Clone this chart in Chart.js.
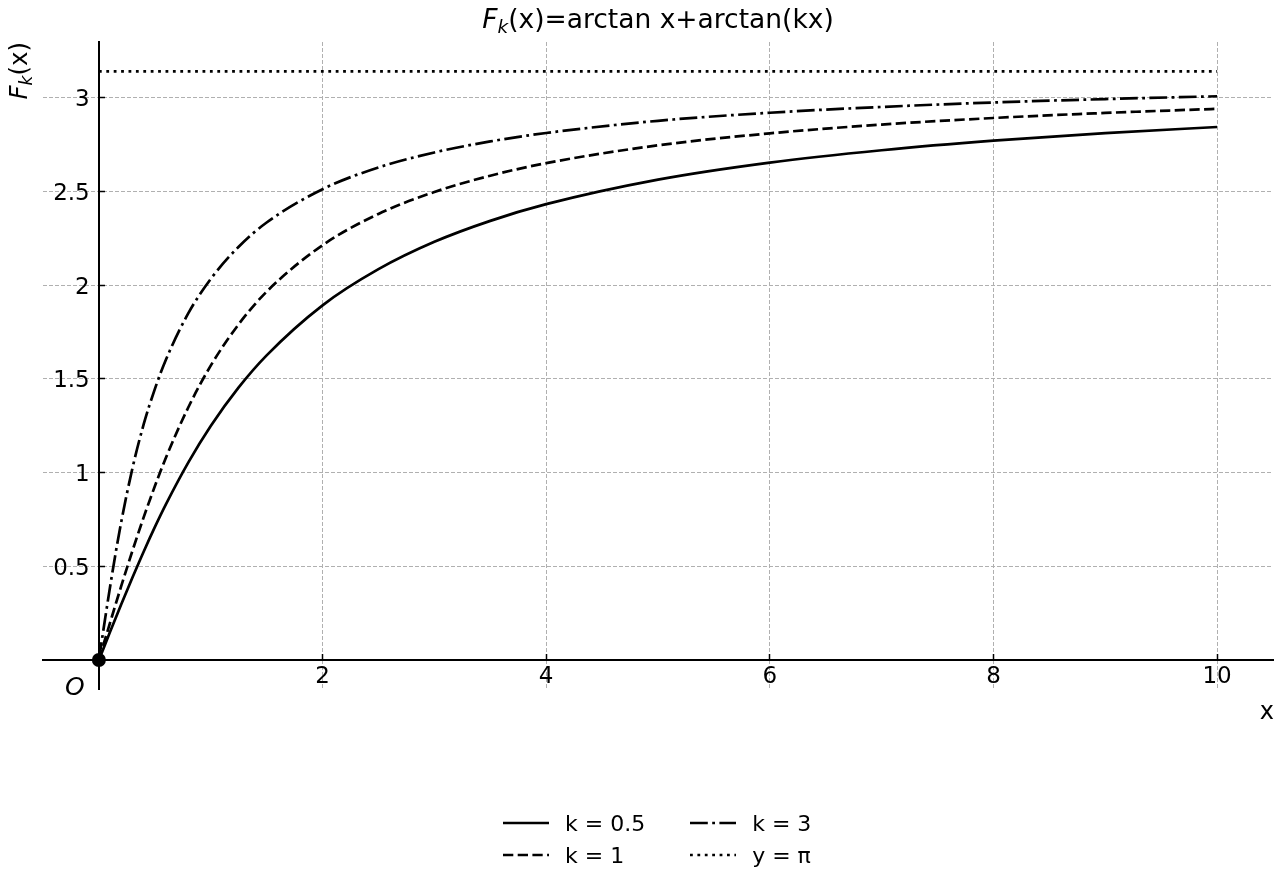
<!DOCTYPE html>
<html><head><meta charset="utf-8">
<script src="https://cdn.jsdelivr.net/npm/chart.js@4.4.1/dist/chart.umd.min.js"></script>
<style>
html,body{margin:0;padding:0;background:#fff;}
#wrap{position:relative;width:1280px;height:880px;overflow:hidden;}
#c{position:absolute;left:0;top:0;}
#legend{position:absolute;left:503px;top:807px;display:grid;grid-auto-flow:column;grid-template-rows:32px 32px;column-gap:45px;font-family:'DejaVu Sans';font-size:22px;color:#000;}
.item{display:flex;align-items:center;white-space:nowrap;}
.item svg{margin-right:16px;display:block;}
</style></head><body>
<div id="wrap"><canvas id="c" width="1280" height="880"></canvas><div id="legend"></div></div>
<script>
// ---- data ----
const xValues   = [0, 0.05, 0.1, 0.15, 0.2, 0.3, 0.4, 0.5, 0.6, 0.8, 1, 1.25, 1.5, 2, 2.5, 3, 3.5, 4, 5, 6, 7, 8, 9, 10];
const k05Values = [0, 0.075, 0.150, 0.224, 0.297, 0.440, 0.578, 0.709, 0.832, 1.055, 1.249, 1.455, 1.626, 1.893, 2.086, 2.232, 2.344, 2.433, 2.564, 2.655, 2.721, 2.772, 2.812, 2.845];
const k1Values  = [0, 0.100, 0.199, 0.298, 0.395, 0.583, 0.761, 0.927, 1.081, 1.349, 1.571, 1.792, 1.966, 2.214, 2.381, 2.498, 2.585, 2.652, 2.747, 2.811, 2.858, 2.893, 2.920, 2.942];
const k3Values  = [0, 0.199, 0.391, 0.572, 0.738, 1.024, 1.257, 1.446, 1.604, 1.851, 2.034, 2.206, 2.335, 2.513, 2.629, 2.709, 2.768, 2.813, 2.878, 2.921, 2.952, 2.976, 2.994, 3.009];
const piLineX   = [0, 10];
const piValue   = 3.14159;
const originPoint = [0, 0];
const seriesLabels = ['k = 0.5', 'k = 1', 'k = 3', 'y = π'];
const xTickValues = [0, 2, 4, 6, 8, 10];
const yTickValues = [0, 0.5, 1, 1.5, 2, 2.5, 3];
const titleF = 'F', titleSub = 'k', titleRest = '(x)=arctan x+arctan(kx)';
const yLabelRest = '(x)';
const xLabel = 'x';
const originLabel = 'O';

const FONT = '"DejaVu Sans"';
const toPts = (xs, ys) => xs.map((x, i) => ({x: x, y: ys[i]}));

const lineBase = {borderColor: '#000', backgroundColor: '#000', borderWidth: 2.7, pointRadius: 0, fill: false,
  cubicInterpolationMode: 'monotone', borderCapStyle: 'butt'};

const datasets = [
  Object.assign({}, lineBase, {label: seriesLabels[0], data: toPts(xValues, k05Values), borderDash: []}),
  Object.assign({}, lineBase, {label: seriesLabels[1], data: toPts(xValues, k1Values), borderDash: [10.3, 4.4]}),
  Object.assign({}, lineBase, {label: seriesLabels[2], data: toPts(xValues, k3Values), borderDash: [17.8, 4.4, 2.8, 4.4]}),
  Object.assign({}, lineBase, {label: seriesLabels[3], data: toPts(piLineX, piLineX.map(() => piValue)), borderDash: [2.8, 4.6], tension: 0}),
  {label: '', data: [{x: originPoint[0], y: originPoint[1]}], showLine: false, pointRadius: 7, pointHoverRadius: 7,
   backgroundColor: '#000', borderColor: '#000', borderWidth: 0, order: -1}
];

const textPlugin = {
  id: 'texts',
  afterDraw(chart) {
    const ctx = chart.ctx;
    const ca = chart.chartArea;
    ctx.save();
    ctx.fillStyle = '#000';
    ctx.textBaseline = 'alphabetic';
    // title
    const ts = 26.5;
    const parts = [
      {t: titleF, f: `italic ${ts}px ${FONT}`, dy: 0},
      {t: titleSub, f: `italic ${(ts * 0.7).toFixed(1)}px ${FONT}`, dy: 5},
      {t: titleRest, f: `${ts}px ${FONT}`, dy: 0}
    ];
    let total = 0;
    parts.forEach(p => { ctx.font = p.f; p.w = ctx.measureText(p.t).width; total += p.w; });
    let x = (ca.left + ca.right) / 2 - total / 2;
    const by = 28;
    ctx.textAlign = 'left';
    parts.forEach(p => { ctx.font = p.f; ctx.fillText(p.t, x, by + p.dy); x += p.w; });
    // y label (rotated, aligned to top of axes)
    const ls = 24.5;
    const yparts = [
      {t: titleF, f: `italic ${ls}px ${FONT}`, dy: 0},
      {t: titleSub, f: `italic ${(ls * 0.7).toFixed(1)}px ${FONT}`, dy: 4.5},
      {t: yLabelRest, f: `${ls}px ${FONT}`, dy: 0}
    ];
    let ytot = 0;
    yparts.forEach(p => { ctx.font = p.f; p.w = ctx.measureText(p.t).width; ytot += p.w; });
    ctx.save();
    ctx.translate(27, ca.top + ytot);
    ctx.rotate(-Math.PI / 2);
    let yx = 0;
    yparts.forEach(p => { ctx.font = p.f; ctx.fillText(p.t, yx, p.dy); yx += p.w; });
    ctx.restore();
    // x label
    ctx.font = `24px ${FONT}`;
    ctx.textAlign = 'right';
    ctx.fillText(xLabel, ca.right + 1, 719);
    // origin label
    const xs = chart.scales.x;
    ctx.font = `italic 25px ${FONT}`;
    ctx.textAlign = 'center';
    ctx.fillText(originLabel, xs.getPixelForValue(0) - 24, 695);
    ctx.restore();
  }
};

const htmlLegend = {
  id: 'htmlLegend',
  afterUpdate(chart) {
    const el = document.getElementById('legend');
    el.innerHTML = '';
    chart.data.datasets.forEach(ds => {
      if (!ds.label) return;
      const item = document.createElement('div');
      item.className = 'item';
      const dash = (ds.borderDash || []).join(' ');
      item.innerHTML = `<svg width="46" height="10"><line x1="0" y1="5" x2="46" y2="5" stroke="#000" stroke-width="2.7" ${dash ? `stroke-dasharray="${dash}"` : ''}/></svg><span>${ds.label}</span>`;
      el.appendChild(item);
    });
  }
};

const gridCommon = {color: '#b0b0b0', lineWidth: 1, drawTicks: true, tickLength: -7, tickColor: '#000', tickWidth: 1.5, tickBorderDash: []};
const borderCommon = {display: true, color: '#000', width: 2, dash: [4, 2]};

new Chart(document.getElementById('c'), {
  type: 'line',
  data: {datasets: datasets},
  options: {
    responsive: false, animation: false, devicePixelRatio: 1,
    layout: {padding: {left: 43, right: 7, top: 42, bottom: 190.6}},
    plugins: {legend: {display: false}, title: {display: false}, tooltip: {enabled: false}},
    scales: {
      x: {
        type: 'linear', min: -0.5, max: 10.5, position: {y: 0},
        afterBuildTicks: s => { s.ticks = xTickValues.map(v => ({value: v})); },
        ticks: {callback: v => v === 0 ? '' : String(v), font: {family: 'DejaVu Sans', size: 23}, color: '#000', padding: 10, maxRotation: 0, autoSkip: false},
        grid: gridCommon, border: borderCommon
      },
      y: {
        type: 'linear', min: -0.15708, max: 3.29867, position: {x: 0},
        afterBuildTicks: s => { s.ticks = yTickValues.map(v => ({value: v})); },
        ticks: {callback: v => v === 0 ? '' : String(v) + '\u2009\u2009', font: {family: 'DejaVu Sans', size: 23}, color: '#000', labelOffset: 2.5, autoSkip: false},
        grid: gridCommon, border: borderCommon
      }
    }
  },
  plugins: [textPlugin, htmlLegend]
});
</script>
</body></html>
